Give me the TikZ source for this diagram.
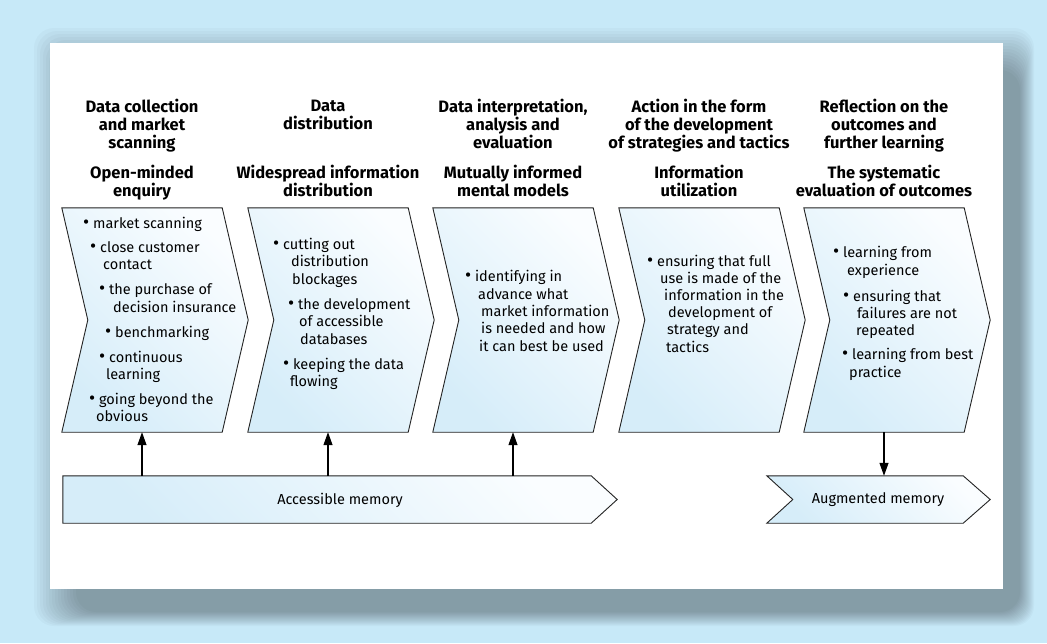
\documentclass[tikz,border=0pt]{standalone}
\usepackage{fontspec}
\setmainfont{Fira Sans}
\usetikzlibrary{arrows.meta, positioning, calc}

\definecolor{bgblue}{RGB}{199,233,248}
\definecolor{chevlight}{RGB}{250,253,255}
\definecolor{chevdark}{RGB}{214,237,249}
\definecolor{edge}{RGB}{35,35,35}

\newcommand\itembul{\raisebox{-0.4pt}{\scalebox{1.3}{\textbullet}}\ }
\newcommand\tallest{\vphantom{lD}}

\begin{document}
\begin{tikzpicture}[x=1pt, y=-1pt,
        stage/.style={minimum width=160pt, minimum height=224pt, inner sep=0pt},
        memory/.style={minimum height=47pt, inner sep=0pt},
        chev/.style={draw=edge, line width=0.9pt, top color=chevlight, bottom color=chevdark, shading angle=-45},
        head/.style={align=center, anchor=north, inner sep=0pt, font=\fontsize{16.5}{18}\selectfont\bfseries},
        body/.style={anchor=base west, inner sep=0pt, font=\fontsize{14.5}{17}\selectfont},
        memtext/.style={inner sep=0pt, font=\fontsize{14.5}{17}\selectfont},
        arrow/.style={-{Triangle[length=13pt, width=9pt]}, line width=1.2pt, draw=black}
    ]
        \useasboundingbox (0,0) rectangle (1047,643);
        \fill[bgblue] (0,0) rectangle (1047,643);

        % soft shadow under the panel
        \foreach \i in {0,...,14}
            \fill[black, opacity=0.025, rounded corners=20pt] (34+3*\i, 28+3*\i) rectangle (1034-\i, 626-\i);
        \fill[white] (50,43) rectangle (1003,589);

        \node[stage] (c1) at (142,320) {};
        \node[stage] (c2) at (328,320) {};
        \node[stage] (c3) at (513,320) {};
        \node[stage] (c4) at (699,320) {};
        \node[stage] (c5) at (884,320) {};
        \node[memory, minimum width=528pt] (acc) at (327,499.5) {};
        \node[memory, minimum width=196pt] (aug) at (865,499.5) {};

        \foreach \n in {c1,c2,c3,c4,c5}
            \draw[chev] (\n.north west) -- (\n.north east) -- ([xshift=26pt]\n.east) -- (\n.south east)
                -- (\n.south west) -- ([xshift=26pt]\n.west) -- cycle;
        \draw[chev] (acc.north west) -- (acc.north east) -- ([xshift=26pt]acc.east) -- (acc.south east)
            -- (acc.south west) -- cycle;
        \draw[chev] (aug.north west) -- (aug.north east) -- ([xshift=27pt]aug.east) -- (aug.south east)
            -- (aug.south west) -- ([xshift=26pt]aug.west) -- cycle;

        \node[memtext] (acclabel) at (340,500) {Accessible memory};
        \node[memtext] (auglabel) at (878,500) {Augmented memory};

        % headings
        \node[head] (h1a) at (142,99) {\tallest Data collection\\and market\\scanning};
        \node[head] (h2a) at (328,99) {\tallest Data\\distribution};
        \node[head] (h3a) at (513,99) {\tallest Data interpretation,\\analysis and\\evaluation};
        \node[head] (h4a) at (699,99) {\tallest Action in the form\\of the development\\of strategies and tactics};
        \node[head] (h5a) at (884,99) {\tallest Reflection on the\\outcomes and\\further learning};
        \node[head] (h1b) at (142,165) {\tallest Open-minded\\enquiry};
        \node[head] (h2b) at (328,165) {\tallest Widespread information\\distribution};
        \node[head] (h3b) at (513,165) {\tallest Mutually informed\\mental models};
        \node[head] (h4b) at (699,165) {\tallest Information\\utilization};
        \node[head] (h5b) at (884,165) {\tallest The systematic\\evaluation of outcomes};

        % bullet text, line by line
        \foreach \x/\y/\t [count=\i] in {83/228/{\itembul market scanning}, 90/252/{\itembul close customer},
                103/269/contact, 99/294/{\itembul the purchase of}, 113/312/decision insurance,
                105/337/{\itembul benchmarking}, 99/362/{\itembul continuous}, 106/379/learning,
                89/404/{\itembul going beyond the}, 96/421/obvious}
            \node[body] (ta\i) at (\x,\y) {\t};
        \foreach \x/\y/\t [count=\i] in {273/249/{\itembul cutting out}, 291/266/distribution, 292/284/blockages,
                288/309/{\itembul the development}, 299/326/of accessible, 300/344/databases,
                283/369/{\itembul keeping the data}, 290/386/flowing}
            \node[body] (tb\i) at (\x,\y) {\t};
        \foreach \x/\y/\t [count=\i] in {465/281/{\itembul identifying in}, 478/299/advance what,
                481/316/market information, 481/333/is needed and how, 479/351/it can best be used}
            \node[body] (tc\i) at (\x,\y) {\t};
        \foreach \x/\y/\t [count=\i] in {647/266/{\itembul ensuring that full}, 660/283/use is made of the,
                664/300/information in the, 668/317/development of, 667/334/strategy and, 666/352/tactics}
            \node[body] (td\i) at (\x,\y) {\t};
        \foreach \x/\y/\t [count=\i] in {833/257/{\itembul learning from}, 847/275/experience,
                843/301/{\itembul ensuring that}, 857/318/failures are not, 856/335/repeated,
                842/359/{\itembul learning from best}, 849/377/practice}
            \node[body] (te\i) at (\x,\y) {\t};

        \draw[arrow] (acc.north -| c1.south) -- (c1.south);
        \draw[arrow] (acc.north -| c2.south) -- (c2.south);
        \draw[arrow] (acc.north -| c3.south) -- (c3.south);
        \draw[arrow] (c5.south) -- (c5.south |- aug.north);
    \end{tikzpicture}
\end{document}
